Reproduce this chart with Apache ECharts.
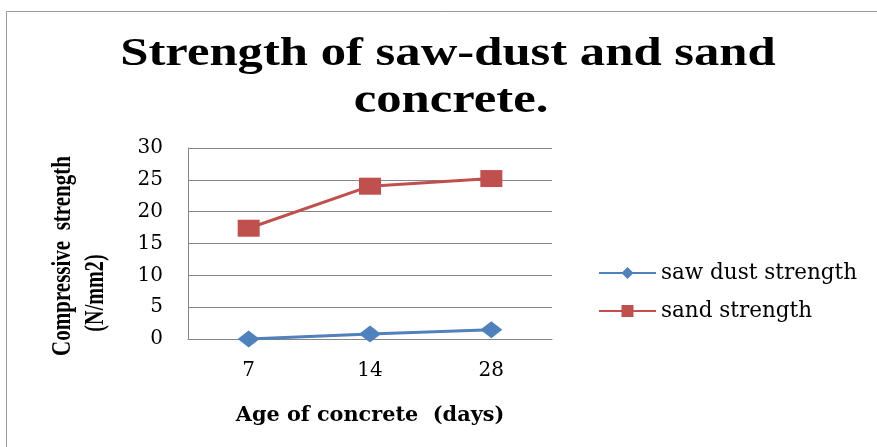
<!DOCTYPE html>
<html><head><meta charset="utf-8">
<script src="https://cdn.jsdelivr.net/npm/echarts@6/dist/echarts.min.js"></script>
<style>html,body{margin:0;padding:0;background:#fff}#c{width:877px;height:447px}</style>
</head><body><div id="c"></div>
<script>
const categories = ['7', '14', '28'];
const sawDust = [0, 0.8, 1.45];
const sand = [17.4, 24.0, 25.2];
const yTicks = [0, 5, 10, 15, 20, 25, 30];
const titleLines = ['Strength of saw-dust and sand', 'concrete.'];
const yNameLines = ['Compressive  strength', '(N/mm2)'];

const times = '"Liberation Serif", "Times New Roman", serif';
const wide = '"DejaVu Serif", "Liberation Serif", serif';
const chart = echarts.init(document.getElementById('c'));
chart.setOption({
  animation: false,
  backgroundColor: '#fff',
  graphic: [
    {type: 'rect', shape: {x: 6.5, y: 11.5, width: 900, height: 460},
     style: {fill: 'none', stroke: '#9a9a9a', lineWidth: 1}, z: -1, silent: true},
    {type: 'text', x: 448, y: 55, scaleX: 1.3,
     style: {text: titleLines[0], fontFamily: times, fontWeight: 'bold', fontSize: 39, fill: '#000',
             textAlign: 'center', textVerticalAlign: 'middle'}},
    {type: 'text', x: 451, y: 102, scaleX: 1.3,
     style: {text: titleLines[1], fontFamily: times, fontWeight: 'bold', fontSize: 39, fill: '#000',
             textAlign: 'center', textVerticalAlign: 'middle'}},
    {type: 'text', x: 63, y: 256, rotation: Math.PI / 2, scaleX: 0.75,
     style: {text: yNameLines[0], fontFamily: times, fontWeight: 'bold', fontSize: 28, fill: '#000',
             textAlign: 'center', textVerticalAlign: 'middle'}},
    {type: 'text', x: 96, y: 293, rotation: Math.PI / 2, scaleX: 0.72,
     style: {text: yNameLines[1], fontFamily: times, fontWeight: 'bold', fontSize: 28, fill: '#000',
             textAlign: 'center', textVerticalAlign: 'middle'}}
  ],
  legend: {
    orient: 'vertical', left: 593, top: 257, itemWidth: 57, itemHeight: 15, itemGap: 16,
    textStyle: {fontFamily: wide, fontSize: 21.5, color: '#000'},
    data: ['saw dust strength', 'sand strength']
  },
  grid: {left: 188, right: 325, top: 148, bottom: 108},
  xAxis: {
    type: 'category', data: categories, boundaryGap: true,
    axisLine: {lineStyle: {color: '#868686'}}, axisTick: {show: false},
    axisLabel: {fontFamily: wide, fontSize: 20, color: '#000', margin: 22},
    name: 'Age of concrete  (days)', nameLocation: 'middle', nameGap: 66,
    nameTextStyle: {fontFamily: wide, fontSize: 20.8, fontWeight: 'bold', color: '#000'}
  },
  yAxis: {
    type: 'value', min: yTicks[0], max: yTicks[yTicks.length - 1], interval: 5,
    axisLine: {show: true, lineStyle: {color: '#868686'}}, axisTick: {show: false},
    splitLine: {lineStyle: {color: '#868686'}},
    axisLabel: {fontFamily: wide, fontSize: 20, color: '#000', margin: 25}
  },
  series: [
    {name: 'saw dust strength', type: 'line', data: sawDust, symbol: 'diamond', symbolSize: [22, 17],
     lineStyle: {color: '#4F81BD', width: 3}, itemStyle: {color: '#4F81BD'}},
    {name: 'sand strength', type: 'line', data: sand, symbol: 'rect', symbolSize: [22, 17],
     lineStyle: {color: '#C0504D', width: 3}, itemStyle: {color: '#C0504D'}}
  ]
});
</script></body></html>
